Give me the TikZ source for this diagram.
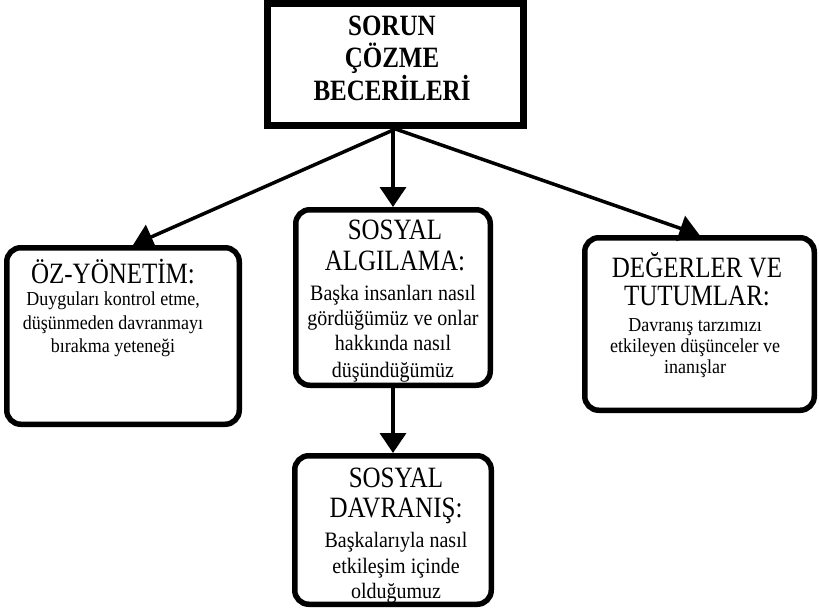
\documentclass[tikz,border=0pt]{standalone}
\usepackage{fontspec}
\usepackage{graphicx}
\setmainfont{Liberation Serif}
\usetikzlibrary{arrows.meta}
\newcommand\stretchT[1]{\scalebox{1}[1.18]{#1}}
\newcommand\stretchB[1]{\scalebox{1}[1.1]{#1}}
\begin{document}
\begin{tikzpicture}[x=1pt,y=-1pt,
  topbox/.style={draw, line width=7pt, inner sep=0pt, fill=white},
  box/.style={draw, line width=5.5pt, rounded corners=14pt, inner sep=0pt, fill=white},
  conn/.style={line width=3.5pt, -{Triangle[length=20pt,width=26pt]}},
  bold/.style={anchor=base, inner sep=0pt, font=\fontsize{25pt}{30pt}\selectfont\bfseries},
  ttl/.style={anchor=base, inner sep=0pt, font=\fontsize{25pt}{30pt}\selectfont},
  bodys/.style={anchor=base, inner sep=0pt, font=\fontsize{18pt}{22pt}\selectfont},
  bodyl/.style={anchor=base, inner sep=0pt, font=\fontsize{20pt}{24pt}\selectfont}
]
\fill[white] (0,0) rectangle (819,611);
\useasboundingbox (0,0) rectangle (819,611);

% boxes
\node[topbox, minimum width=256pt, minimum height=122pt] (top) at (395.5,64.5) {};
\node[box, minimum width=232.5pt, minimum height=176.5pt] (l) at (123,336) {};
\node[box, minimum width=194.5pt, minimum height=175.5pt] (m) at (393,297.5) {};
\node[box, minimum width=229.5pt, minimum height=172.5pt] (r) at (699.5,324) {};
\node[box, minimum width=196.5pt, minimum height=148.5pt] (b) at (393,530) {};

% connectors
\draw[conn] (top.south) -- ([xshift=10pt]l.north);
\draw[conn] (top.south -| m.north) -- (m.north);
\draw[conn] (top.south) -- (r.north);
\draw[conn] (m.south) -- (b.north);

% top text
\node[bold] (t1) at (392,35) {\stretchT{SORUN}};
\node[bold] (t2) at (392,67) {\stretchT{ÇÖZME}};
\node[bold] (t3) at (392,100) {\stretchT{BECERİLERİ}};

% left text
\node[ttl] (l1) at (113,283) {\stretchT{ÖZ-YÖNETİM:}};
\node[bodys] (l2) at (113,305) {\stretchB{Duyguları kontrol etme,}};
\node[bodys] (l3) at (113,329) {\stretchB{düşünmeden davranmayı}};
\node[bodys] (l4) at (113,352) {\stretchB{bırakma yeteneği}};

% middle text
\node[ttl] (m1) at (395,239) {\stretchT{SOSYAL}};
\node[ttl] (m2) at (395,270) {\stretchT{ALGILAMA:}};
\node[bodyl] (m3) at (393,300) {\stretchB{Başka insanları nasıl}};
\node[bodyl] (m4) at (393,325) {\stretchB{gördüğümüz ve onlar}};
\node[bodyl] (m5) at (393,350) {\stretchB{hakkında nasıl}};
\node[bodyl] (m6) at (393,377) {\stretchB{düşündüğümüz}};

% right text
\node[ttl] (r1) at (697,277) {\stretchT{DEĞERLER VE}};
\node[ttl] (r2) at (697,305) {\stretchT{TUTUMLAR:}};
\node[bodys] (r3) at (695,331) {\stretchB{Davranış tarzımızı}};
\node[bodys] (r4) at (695,352) {\stretchB{etkileyen düşünceler ve}};
\node[bodys] (r5) at (695,373) {\stretchB{inanışlar}};

% bottom text
\node[ttl] (b1) at (396,487) {\stretchT{SOSYAL}};
\node[ttl] (b2) at (396,517) {\stretchT{DAVRANIŞ:}};
\node[bodyl] (b3) at (396,547) {\stretchB{Başkalarıyla nasıl}};
\node[bodyl] (b4) at (396,573) {\stretchB{etkileşim içinde}};
\node[bodyl] (b5) at (396,598) {\stretchB{olduğumuz}};
\end{tikzpicture}
\end{document}
